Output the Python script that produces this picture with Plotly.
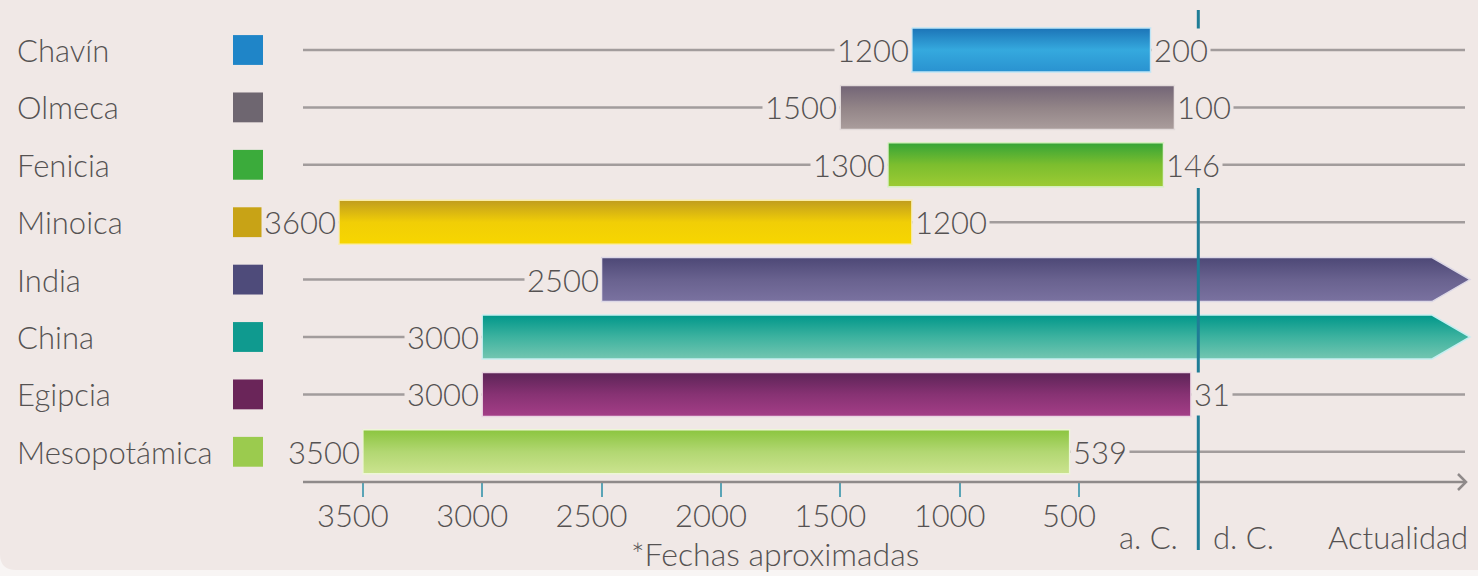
import plotly.graph_objects as go

# ---------------- data ----------------
civilizaciones = ["Chavín", "Olmeca", "Fenicia", "Minoica", "India", "China", "Egipcia", "Mesopotámica"]
inicio_ac = [1200, 1500, 1300, 3600, 2500, 3000, 3000, 3500]      # años a. C.
fin_ac = [200, 100, 146, 1200, None, None, 31, 539]               # años a. C.; None = hasta la actualidad
ticks_ac = [3500, 3000, 2500, 2000, 1500, 1000, 500]
tick_labels = [str(t) for t in ticks_ac]

color_top = ["#1c74b7", "#726476", "#35a437", "#c09c1e", "#4d4876", "#00978a", "#5c2457", "#8bc53f"]
color_mid = ["#35a9de", "#928487", "#7cbe2e", "#f1ce06", "#69628f", "#3db29f", "#873273", "#b2d772"]
color_bot = ["#2a92d0", "#aa9d9c", "#9dcb34", "#f7d600", "#7a72a0", "#74c6b1", "#a43e87", "#cbe38f"]
color_edge = ["#bfe5f6", "#e2dada", "#d6efc0", "#f9ecaa", "#dcd8e6", "#c6eef0", "#ead4e2", "#eef6d8"]
color_swatch = ["#1f85c8", "#6e6670", "#3bab3b", "#c8a316", "#4e4b7a", "#0f9a8f", "#6a2559", "#9bcb4e"]

# ---------------- geometry helpers ----------------
W, H = 1478, 576
BG = "#f0e8e6"
TXT = "#555252"
X0_PX = 1198.3          # pixel of year 0
PX_PER_YEAR = 0.2387
ROW0_PX, ROW_PX = 50.0, 57.4
AXIS_PX = 482.0


def px2x(px):
    return (px - X0_PX) / PX_PER_YEAR


def py2row(py):
    return (py - ROW0_PX) / ROW_PX


def py2paper(py):
    return (AXIS_PX - py) / AXIS_PX


ACTUALIDAD = px2x(1470)          # display position of the present (arrow tip)
PUNTA = 38 / PX_PER_YEAR         # arrow head length
HB = 0.383                       # half bar height (rows)
FONT = "Lato"
FS = 31


def fnt(size=FS):
    return dict(family=FONT, size=size, color=TXT, weight=300)


fig = go.Figure()

shapes = []
# card background with rounded bottom-left corner
yb = py2paper(570)
ry = 16 / AXIS_PX
rx = 16 / W
shapes.append(dict(type="path", xref="paper", yref="paper", layer="below",
                   path=f"M 0,1.3 L 1.02,1.3 L 1.02,{yb} L {rx},{yb} Q 0,{yb} 0,{yb + ry} Z",
                   fillcolor=BG, line=dict(width=0)))

annotations = []
for i, name in enumerate(civilizaciones):
    s = -inicio_ac[i]
    # grey guide line
    shapes.append(dict(type="line", xref="x", yref="y", layer="below",
                       x0=px2x(303), x1=px2x(1465), y0=i, y1=i,
                       line=dict(color="#a29c9c", width=2.5)))
    # swatch
    shapes.append(dict(type="rect", xref="paper", yref="y", layer="below",
                       x0=233 / W, x1=263 / W, y0=i - 0.26, y1=i + 0.26,
                       fillcolor=color_swatch[i], line=dict(width=0)))
    # bar
    if fin_ac[i] is None:
        e = ACTUALIDAD
        xs = [s, e - PUNTA, e, e - PUNTA, s, s]
        ys = [i - HB, i - HB, i, i + HB, i + HB, i - HB]
    else:
        e = -fin_ac[i]
        xs = [s, e, e, s, s]
        ys = [i - HB, i - HB, i + HB, i + HB, i - HB]
    fig.add_trace(go.Scatter(
        x=xs, y=ys, mode="lines", fill="toself",
        line=dict(color=color_edge[i], width=1.5),
        fillgradient=dict(type="vertical", start=i - HB, stop=i + HB,
                          colorscale=[[0, color_top[i]], [0.5, color_mid[i]], [1, color_bot[i]]]),
        hoverinfo="skip", showlegend=False))
    # name
    annotations.append(dict(x=15 / W, xref="paper", y=i, yref="y", text=name,
                            xanchor="left", yanchor="middle", showarrow=False, font=fnt()))
    # start label
    annotations.append(dict(x=s, xref="x", y=i, yref="y", text=str(inicio_ac[i]),
                            xanchor="right", yanchor="middle", showarrow=False,
                            bgcolor=BG, borderpad=2, font=fnt()))
    if fin_ac[i] is not None:
        annotations.append(dict(x=e, xref="x", y=i, yref="y", text=str(fin_ac[i]),
                                xanchor="left", yanchor="middle", showarrow=False,
                                bgcolor=BG, borderpad=2, font=fnt()))

# axis line with arrow
shapes.append(dict(type="line", xref="x", yref="paper", x0=px2x(303), x1=px2x(1466), y0=0, y1=0,
                   line=dict(color="#8f8a8a", width=2.5)))
shapes.append(dict(type="path", xref="x", yref="paper",
                   path=f"M {px2x(1458)},{py2paper(474)} L {px2x(1466)},{py2paper(482)} L {px2x(1458)},{py2paper(490)}",
                   line=dict(color="#8f8a8a", width=2.5)))
# a.C. / d.C. divider
for y0, y1 in [(10, 30), (188, 550)]:
    shapes.append(dict(type="line", xref="x", yref="paper", x0=0, x1=0,
                       y0=py2paper(y0), y1=py2paper(y1), layer="above",
                       line=dict(color="#1f7d96", width=3)))

annotations += [
    dict(x=0, xref="x", y=py2paper(537), yref="paper", text="a. C.", xanchor="right", yanchor="middle",
         xshift=-18, showarrow=False, font=fnt()),
    dict(x=0, xref="x", y=py2paper(537), yref="paper", text="d. C.", xanchor="left", yanchor="middle",
         xshift=13, showarrow=False, font=fnt()),
    dict(x=ACTUALIDAD, xref="x", y=py2paper(537), yref="paper", text="Actualidad", xanchor="right",
         yanchor="middle", showarrow=False, font=fnt()),
    dict(x=px2x(775), xref="x", y=py2paper(553), yref="paper", text="*Fechas aproximadas",
         xanchor="center", yanchor="middle", showarrow=False, font=fnt(32)),
]

fig.update_layout(
    width=W, height=H,
    margin=dict(l=0, r=0, t=0, b=H - AXIS_PX, pad=0),
    paper_bgcolor="#f8f5f4", plot_bgcolor="rgba(0,0,0,0)",
    font=fnt(),
    xaxis=dict(range=[px2x(0), px2x(W)], domain=[0, 1], showgrid=False, zeroline=False, showline=False,
               tickvals=[-t for t in ticks_ac], ticktext=tick_labels, ticks="outside", ticklen=14,
               tickwidth=2, tickcolor="#5aa4b6", tickfont=fnt(),
               ticklabelshift=-10, ticklabelstandoff=-7, fixedrange=True),
    yaxis=dict(range=[py2row(AXIS_PX), py2row(0)], visible=False, fixedrange=True),
    shapes=shapes, annotations=annotations, showlegend=False,
)

fig.write_html("out.html", config={"displayModeBar": False},
               post_script="document.body.style.margin='0';document.body.style.overflow='hidden';")
